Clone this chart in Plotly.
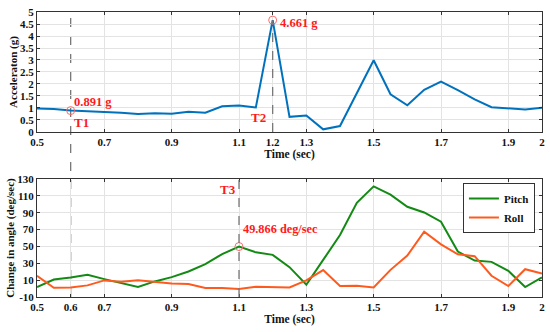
import plotly.graph_objects as go

time = [0.5, 0.55, 0.6, 0.65, 0.7, 0.75, 0.8, 0.85, 0.9, 0.95, 1.0, 1.05, 1.1, 1.15, 1.2,
        1.25, 1.3, 1.35, 1.4, 1.45, 1.5, 1.55, 1.6, 1.65, 1.7, 1.75, 1.8, 1.85, 1.9, 1.95, 2.0]
accel = [0.98, 0.96, 0.891, 0.87, 0.84, 0.80, 0.75, 0.78, 0.76, 0.84, 0.80, 1.07, 1.10, 1.02, 4.661,
         0.63, 0.69, 0.11, 0.25, 1.60, 2.99, 1.57, 1.11, 1.76, 2.10, 1.74, 1.36, 1.03, 0.99, 0.94, 1.01]
pitch = [1.8, 10.8, 13.2, 16.3, 11.2, 6.5, 1.8, 8.5, 13.6, 20.3, 29.0, 41.0, 49.866, 43.0, 40.0,
         25.4, 4.5, 34.0, 63.5, 101.7, 121.3, 111.5, 97.0, 90.3, 79.3, 43.9, 33.3, 31.7, 21.0, 1.8, 13.2]
roll = [15.2, 1.0, 1.4, 3.8, 9.7, 8.1, 10.0, 7.7, 6.1, 5.3, 0.6, 0.6, -0.6, 2.2, 1.8,
        1.4, 9.7, 21.9, 3.0, 3.4, 1.4, 22.2, 39.2, 67.5, 52.5, 40.7, 38.4, 15.2, 3.0, 23.0, 17.9]

top_xticks = [0.5, 0.7, 0.9, 1.1, 1.2, 1.3, 1.5, 1.7, 1.9, 2.0]
top_xlabels = ["0.5", "0.7", "0.9", "1.1", "1.2", "1.3", "1.5", "1.7", "1.9", "2"]
bot_xticks = [0.5, 0.6, 0.7, 0.9, 1.1, 1.3, 1.5, 1.7, 1.9, 2.0]
bot_xlabels = ["0.5", "0.6", "0.7", "0.9", "1.1", "1.3", "1.5", "1.7", "1.9", "2"]
top_yticks = [0, 0.5, 1, 1.5, 2, 2.5, 3, 3.5, 4, 4.5, 5]
top_ylabels = ["0", "0.5", "1", "1.5", "2", "2.5", "3", "3.5", "4", "4.5", "5"]
bot_yticks = [-10, 10, 30, 50, 70, 90, 110, 130]
bot_ylabels = ["-10", "10", "30", "50", "70", "90", "110", "130"]

FONT = "Liberation Serif"
BLUE = "#0072BD"
GREEN = "#138A13"
ORANGE = "#FF5A1E"
RED = "#FF1A1A"


def bold(labels):
    return ["<b>%s</b>" % s for s in labels]


fig = go.Figure()
fig.add_trace(go.Scatter(x=time, y=accel, mode="lines", line=dict(color=BLUE, width=2),
                         showlegend=False, xaxis="x", yaxis="y"))
fig.add_trace(go.Scatter(x=time, y=pitch, mode="lines", name="<b>Pitch</b>", line=dict(color=GREEN, width=2),
                         xaxis="x2", yaxis="y2"))
fig.add_trace(go.Scatter(x=time, y=roll, mode="lines", name="<b>Roll</b>", line=dict(color=ORANGE, width=2),
                         xaxis="x2", yaxis="y2"))
# highlight markers
fig.add_trace(go.Scatter(x=[time[2], time[14]], y=[accel[2], accel[14]], mode="markers",
                         marker=dict(symbol="circle-open", size=8, color="#FF6B6B", line=dict(width=1)),
                         showlegend=False, xaxis="x", yaxis="y"))
fig.add_trace(go.Scatter(x=[time[12]], y=[pitch[12]], mode="markers",
                         marker=dict(symbol="circle-open", size=8, color="#FF6B6B", line=dict(width=1)),
                         showlegend=False, xaxis="x2", yaxis="y2"))

axis_common = dict(showline=True, linecolor="#333", linewidth=1, mirror="ticks", ticks="inside",
                   ticklen=3, tickcolor="#333", showgrid=True, gridcolor="#e3e3e3", gridwidth=1,
                   zeroline=False, automargin=False, ticklabeloverflow="allow",
                   tickfont=dict(family=FONT, size=11, color="#111"))
title_font = dict(family=FONT, size=11, color="#111")

fig.update_layout(
    width=550, height=332,
    margin=dict(l=37, r=8, t=12, b=35),
    paper_bgcolor="white", plot_bgcolor="white",
    xaxis=dict(axis_common, range=[0.5, 2.0], domain=[0, 1], anchor="y",
               tickvals=top_xticks, ticktext=bold(top_xlabels),
               title=dict(text="<b>Time (sec)</b>", font=dict(title_font, size=11.5), standoff=0)),
    yaxis=dict(axis_common, range=[0, 5], domain=[0.579, 1.0], anchor="x",
               tickvals=top_yticks, ticktext=bold(top_ylabels),
               title=dict(text="<b>Acceleraton (g)</b>", font=title_font, standoff=0)),
    xaxis2=dict(axis_common, range=[0.5, 2.0], domain=[0, 1], anchor="y2",
                tickvals=bot_xticks, ticktext=bold(bot_xlabels),
                title=dict(text="<b>Time (sec)</b>", font=dict(title_font, size=11.5), standoff=0)),
    yaxis2=dict(axis_common, range=[-10, 130], domain=[0, 0.414], anchor="x2",
                tickvals=bot_yticks, ticktext=bold(bot_ylabels),
                title=dict(text="<b>Change in angle (deg/sec)</b>", font=title_font, standoff=0)),
    legend=dict(x=0.986, y=0.4, xanchor="right", yanchor="top", bgcolor="white",
                bordercolor="#333", borderwidth=1, font=dict(family=FONT, size=11, color="#111"),
                tracegroupgap=0, itemwidth=30),
    font=dict(family=FONT),
)

dash = dict(color="#777", width=1.3, dash="dash")
fig.add_shape(type="line", xref="x2", yref="paper", x0=0.6, x1=0.6, y0=0, y1=1, line=dash, layer="below")
fig.add_shape(type="line", xref="x", yref="y", x0=1.2, x1=1.2, y0=0, y1=accel[14], line=dash)
fig.add_shape(type="line", xref="x2", yref="y2 domain", x0=1.1, x1=1.1, y0=0, y1=1, line=dash)

for txt, x, y, xa, ya, xr, yr, sz in [
    ("<b>0.891 g</b>", 0.604, 1.25, "left", "middle", "x", "y", 12.5),
    ("<b>T1</b>", 0.603, 0.4, "left", "middle", "x", "y", 13),
    ("<b>4.661 g</b>", 1.217, 4.53, "left", "middle", "x", "y", 12.5),
    ("<b>T2</b>", 1.185, 0.6, "right", "middle", "x", "y", 13),
    ("<b>T3</b>", 1.097, 118, "right", "middle", "x2", "y2", 13),
    ("<b>49.866 deg/sec</b>", 1.106, 71, "left", "middle", "x2", "y2", 12.3),
]:
    fig.add_annotation(text=txt, x=x, y=y, xref=xr, yref=yr, xanchor=xa, yanchor=ya,
                       showarrow=False, font=dict(family=FONT, size=sz, color=RED))

# remove the browser's default 8px body margin so the 550x332 figure fills the window exactly
fig.write_html("out.html", config={"displayModeBar": False},
               post_script="document.body.style.margin='0';")
